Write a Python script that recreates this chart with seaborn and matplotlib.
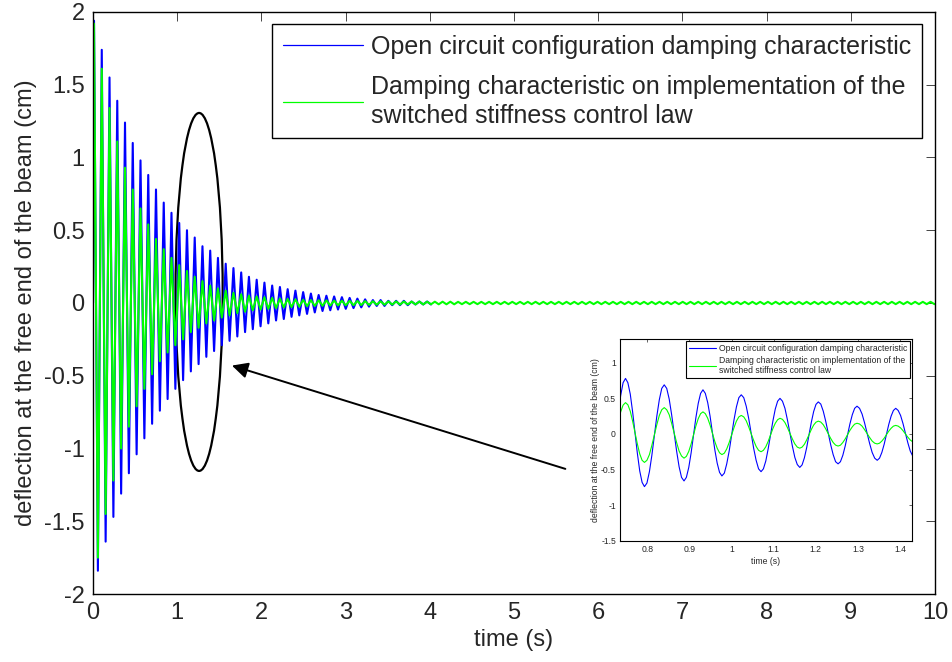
import numpy as np
import pandas as pd
import matplotlib
matplotlib.use("Agg")
import matplotlib.pyplot as plt
from matplotlib.patches import Ellipse
from matplotlib.ticker import FormatStrFormatter, MultipleLocator
import seaborn as sns

sns.set_style("white")
plt.rcParams['font.family'] = ['Liberation Sans', 'DejaVu Sans']
plt.rcParams['xtick.direction'] = 'in'
plt.rcParams['ytick.direction'] = 'in'

LABEL_OPEN = 'Open circuit configuration damping characteristic'
LABEL_SWITCHED = 'Damping characteristic on implementation of the\nswitched stiffness control law'

# oscillation timing (s)
first_peak = 0.012
cycle_period = 0.092

# per-cycle extremes, main plot (cm)
open_peaks = [1.94, 1.74, 1.55, 1.39, 1.24, 1.10, 0.98, 0.88, 0.78, 0.69,
              0.62, 0.55, 0.50, 0.45, 0.39, 0.36, 0.31, 0.27, 0.24, 0.21,
              0.18, 0.16, 0.14, 0.12, 0.11, 0.095, 0.085, 0.075, 0.065, 0.055,
              0.05, 0.045, 0.04, 0.035, 0.03, 0.025, 0.02, 0.02, 0.015, 0.015,
              0.015, 0.01, 0.01, 0.01]
open_troughs = [-1.84, -1.64, -1.47, -1.31, -1.17, -1.04, -0.93, -0.83, -0.74, -0.66,
                -0.59, -0.53, -0.47, -0.42, -0.37, -0.33, -0.29, -0.26, -0.23, -0.20,
                -0.18, -0.16, -0.14, -0.12, -0.11, -0.095, -0.085, -0.075, -0.065, -0.055,
                -0.05, -0.045, -0.04, -0.035, -0.03, -0.025, -0.02, -0.02, -0.015, -0.015,
                -0.015, -0.01, -0.01, -0.01]

switched_peaks = [1.92, 1.61, 1.34, 1.11, 0.93, 0.78, 0.65, 0.54, 0.44, 0.37,
                  0.31, 0.26, 0.22, 0.18, 0.15, 0.12, 0.10, 0.085, 0.07, 0.06,
                  0.05, 0.045, 0.04, 0.035, 0.03, 0.028, 0.025, 0.022, 0.02]
switched_troughs = [-1.75, -1.45, -1.22, -1.00, -0.85, -0.71, -0.59, -0.49, -0.40, -0.34,
                    -0.29, -0.25, -0.20, -0.17, -0.14, -0.12, -0.10, -0.085, -0.07, -0.06,
                    -0.05, -0.045, -0.04, -0.035, -0.03, -0.028, -0.025, -0.022, -0.02]
# small residual ripple of the controlled beam up to 10 s
switched_tail = [0.019, 0.018, 0.017, 0.016, 0.015, 0.014, 0.013, 0.012, 0.012, 0.011,
                 0.011, 0.010, 0.010, 0.010, 0.009, 0.009, 0.009, 0.009, 0.008, 0.008,
                 0.008, 0.008, 0.008, 0.008, 0.008, 0.008, 0.008, 0.008, 0.008, 0.008,
                 0.008, 0.008, 0.008, 0.008, 0.008, 0.008, 0.008, 0.008, 0.008, 0.008,
                 0.008, 0.008, 0.008, 0.008, 0.008, 0.008, 0.008, 0.008, 0.008, 0.008,
                 0.008, 0.008, 0.008, 0.008, 0.008, 0.008, 0.008, 0.008, 0.008, 0.008,
                 0.008, 0.008, 0.008, 0.008, 0.008, 0.008, 0.008, 0.008, 0.008, 0.008,
                 0.008, 0.008, 0.008, 0.008, 0.008, 0.008, 0.008, 0.008, 0.008, 0.008]

# zoomed window (inset)
inset_time = [0.725, 0.73075, 0.7365, 0.74225, 0.748,
              0.7536, 0.7593, 0.7649, 0.7705, 0.7761, 0.7818, 0.7874, 0.793,
              0.7989, 0.8048, 0.8106, 0.8165, 0.8224, 0.8283, 0.8341, 0.840,
              0.8459, 0.8518, 0.8576, 0.8635, 0.8694, 0.8753, 0.8811, 0.887,
              0.8926, 0.8983, 0.9039, 0.9095, 0.9151, 0.9208, 0.9264, 0.932,
              0.9376, 0.9433, 0.9489, 0.9545, 0.9601, 0.9658, 0.9714, 0.977,
              0.9828, 0.9885, 0.9943, 1.0000, 1.0058, 1.0115, 1.0173, 1.023,
              1.0289, 1.0348, 1.0406, 1.0465, 1.0524, 1.0583, 1.0641, 1.070,
              1.0756, 1.0813, 1.0869, 1.0925, 1.0981, 1.1038, 1.1094, 1.115,
              1.1209, 1.1268, 1.1326, 1.1385, 1.1444, 1.1503, 1.1561, 1.162,
              1.1675, 1.173, 1.1785, 1.184, 1.1895, 1.195, 1.2005, 1.206,
              1.2119, 1.2178, 1.2236, 1.2295, 1.2354, 1.2413, 1.2471, 1.253,
              1.2586, 1.2643, 1.2699, 1.2755, 1.2811, 1.2868, 1.2924, 1.298,
              1.304, 1.310, 1.316, 1.322, 1.328, 1.334, 1.340, 1.346,
              1.3515, 1.357, 1.3625, 1.368, 1.3735, 1.379, 1.3845, 1.390,
              1.3958, 1.4015, 1.4073, 1.413, 1.4188, 1.4245, 1.4303, 1.436]
inset_open = [-0.025, 0.28, 0.54, 0.72, 0.78,
              0.72, 0.56, 0.31, 0.02, -0.27, -0.52, -0.68, -0.74,
              -0.69, -0.53, -0.30, -0.025, 0.25, 0.48, 0.64, 0.69,
              0.64, 0.49, 0.27, 0.015, -0.24, -0.46, -0.61, -0.66,
              -0.61, -0.47, -0.265, -0.02, 0.225, 0.43, 0.57, 0.62,
              0.57, 0.44, 0.25, 0.015, -0.22, -0.41, -0.54, -0.59,
              -0.55, -0.42, -0.24, -0.02, 0.20, 0.38, 0.51, 0.55,
              0.51, 0.39, 0.22, 0.01, -0.20, -0.37, -0.49, -0.53,
              -0.49, -0.38, -0.21, -0.015, 0.18, 0.35, 0.46, 0.50,
              0.46, 0.36, 0.20, 0.015, -0.17, -0.33, -0.43, -0.47,
              -0.435, -0.335, -0.19, -0.01, 0.165, 0.315, 0.415, 0.45,
              0.42, 0.32, 0.18, 0.015, -0.15, -0.29, -0.39, -0.42,
              -0.39, -0.30, -0.17, -0.015, 0.14, 0.27, 0.36, 0.39,
              0.36, 0.28, 0.155, 0.01, -0.135, -0.26, -0.34, -0.37,
              -0.34, -0.26, -0.145, -0.005, 0.135, 0.25, 0.33, 0.36,
              0.33, 0.26, 0.145, 0.01, -0.125, -0.24, -0.31, -0.34]
inset_switched = [-0.015, 0.16, 0.31, 0.405, 0.44,
                  0.41, 0.32, 0.18, 0.02, -0.14, -0.28, -0.37, -0.40,
                  -0.37, -0.29, -0.16, -0.015, 0.13, 0.26, 0.34, 0.37,
                  0.34, 0.27, 0.15, 0.015, -0.12, -0.24, -0.31, -0.34,
                  -0.315, -0.245, -0.14, -0.015, 0.11, 0.215, 0.285, 0.31,
                  0.285, 0.22, 0.125, 0.01, -0.105, -0.20, -0.265, -0.29,
                  -0.27, -0.21, -0.12, -0.015, 0.09, 0.18, 0.24, 0.26,
                  0.24, 0.185, 0.10, 0.005, -0.09, -0.175, -0.23, -0.25,
                  -0.23, -0.18, -0.105, -0.015, 0.075, 0.15, 0.20, 0.22,
                  0.205, 0.16, 0.09, 0.01, -0.07, -0.14, -0.185, -0.20,
                  -0.185, -0.145, -0.083, -0.01, 0.063, 0.125, 0.165, 0.18,
                  0.167, 0.13, 0.072, 0.005, -0.062, -0.12, -0.157, -0.17,
                  -0.158, -0.12, -0.07, -0.01, 0.05, 0.10, 0.138, 0.15,
                  0.14, 0.11, 0.06, 0.005, -0.05, -0.10, -0.13, -0.14,
                  -0.13, -0.10, -0.06, -0.01, 0.04, 0.08, 0.11, 0.12,
                  0.11, 0.085, 0.046, 0.0, -0.046, -0.085, -0.11, -0.12]


def extremes_to_series(peaks, troughs):
    n = len(peaks)
    t_pk = first_peak + cycle_period * np.arange(n)
    t_tr = t_pk + cycle_period / 2
    t = np.empty(2 * n)
    y = np.empty(2 * n)
    t[0::2], t[1::2] = t_pk, t_tr
    y[0::2], y[1::2] = peaks, troughs
    return pd.DataFrame({'time': np.r_[0.0, t], 'defl': np.r_[0.0, y]})


df_open = extremes_to_series(open_peaks, open_troughs)
df_sw = extremes_to_series(switched_peaks + switched_tail,
                           switched_troughs + [-a for a in switched_tail])
df_inset = pd.DataFrame({'time': inset_time, 'open': inset_open, 'switched': inset_switched})

fig = plt.figure(figsize=(9.52, 6.62), dpi=100)
ax = fig.add_axes([0.0977, 0.1027, 0.8844, 0.8792])

sns.lineplot(data=df_open, x='time', y='defl', ax=ax, color='#0000ff', lw=1.5,
             estimator=None, sort=False, label=LABEL_OPEN)
sns.lineplot(data=df_sw, x='time', y='defl', ax=ax, color='#00ff00', lw=1.5,
             estimator=None, sort=False, label=LABEL_SWITCHED)

ax.set_xlim(0, 10)
ax.set_ylim(-2, 2)
ax.xaxis.set_major_locator(MultipleLocator(1))
ax.yaxis.set_major_locator(MultipleLocator(0.5))
ax.yaxis.set_major_formatter(FormatStrFormatter('%g'))
ax.tick_params(axis='both', which='both', labelsize=17, length=6.5, width=0.6,
               top=True, right=True, pad=6)
ax.set_xlabel('time (s)', fontsize=17, labelpad=3)
ax.set_ylabel('deflection at the free end of the beam (cm)', fontsize=17, labelpad=5)
for sp in ax.spines.values():
    sp.set_linewidth(1.0)
    sp.set_color('black')

leg = ax.legend(loc='upper left', bbox_to_anchor=(0.2126, 0.979), fontsize=18,
                frameon=True, fancybox=False, framealpha=1, edgecolor='black',
                handlelength=3.2, handletextpad=0.35, borderpad=0.42,
                labelspacing=0.67, borderaxespad=0)
leg.get_frame().set_linewidth(1.0)
for txt in leg.get_texts():
    txt.set_linespacing(1.23)
for ln in leg.get_lines():
    ln.set_linewidth(0.9)

ax.add_patch(Ellipse((1.26, 0.076), width=0.56, height=2.46, fill=False,
                     lw=1.6, edgecolor='black'))
ax.annotate('', xy=(1.65, -0.43), xytext=(5.61, -1.14),
            arrowprops=dict(arrowstyle='-|>', lw=1.4, color='black',
                            mutation_scale=24, shrinkA=0, shrinkB=0))

# inset with the zoomed window
axi = fig.add_axes([0.6513, 0.1832, 0.3064, 0.3043])
sns.lineplot(data=df_inset, x='time', y='open', ax=axi, color='#0000ff', lw=0.8,
             estimator=None, sort=False, label=LABEL_OPEN)
sns.lineplot(data=df_inset, x='time', y='switched', ax=axi, color='#00ff00', lw=0.8,
             estimator=None, sort=False, label=LABEL_SWITCHED)
axi.set_xlim(0.735, 1.428)
axi.set_ylim(-1.5, 1.33)
axi.xaxis.set_major_locator(MultipleLocator(0.1))
axi.yaxis.set_major_locator(MultipleLocator(0.5))
axi.xaxis.set_major_formatter(FormatStrFormatter('%g'))
axi.yaxis.set_major_formatter(FormatStrFormatter('%g'))
axi.tick_params(axis='both', which='both', labelsize=6.2, length=2.5, width=0.5,
                top=True, right=True, pad=3)
axi.set_xlabel('time (s)', fontsize=6.2, labelpad=2)
axi.set_ylabel('deflection at the free end of the beam (cm)', fontsize=6.2, labelpad=1)
for sp in axi.spines.values():
    sp.set_linewidth(0.8)
    sp.set_color('black')
legi = axi.legend(loc='upper right', fontsize=6.2, frameon=True, fancybox=False,
                  framealpha=1, edgecolor='black', handlelength=3.2,
                  handletextpad=0.25, borderpad=0.3, labelspacing=0.3,
                  borderaxespad=0.25)
legi.get_frame().set_linewidth(0.8)

fig.savefig('out.png', dpi=100, facecolor='white')
